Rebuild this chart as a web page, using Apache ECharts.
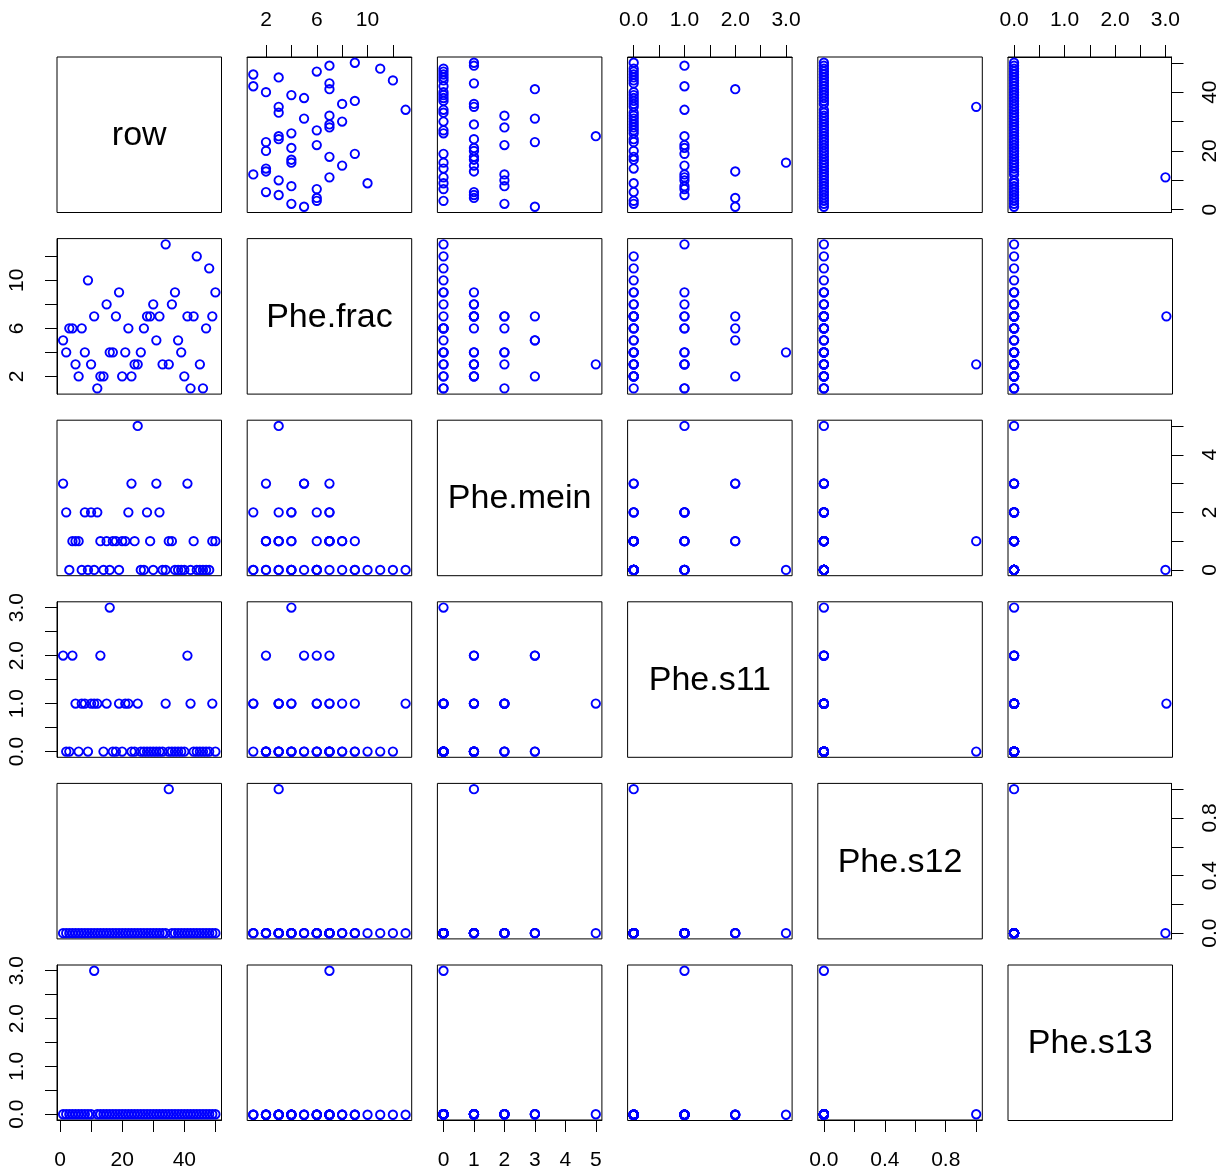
<!DOCTYPE html>
<html><head><meta charset="utf-8">
<script src="https://cdn.jsdelivr.net/npm/echarts@6/dist/echarts.min.js"></script>
<style>html,body{margin:0;padding:0;background:#fff}#c{width:1221px;height:1171px}</style>
</head><body><div id="c"></div>
<script>
// ---- data ----
const varNames = ['row', 'Phe.frac', 'Phe.mein', 'Phe.s11', 'Phe.s12', 'Phe.s13'];
const row = [1,2,3,4,5,6,7,8,9,10,11,12,13,14,15,16,17,18,19,20,21,22,23,24,25,26,27,28,29,30,31,32,33,34,35,36,37,38,39,40,41,42,43,44,45,46,47,48,49,50];
const pheFrac = [5,4,6,6,3,2,6,4,10,3,7,1,2,2,8,4,4,7,9,2,4,6,2,3,3,4,6,7,7,8,5,7,3,13,3,8,9,5,4,2,7,1,7,12,3,1,6,11,7,9];
const pheMein = [3,2,0,1,1,1,0,2,0,2,0,2,1,0,1,0,1,1,0,1,1,2,3,1,5,0,0,2,1,0,3,2,0,0,1,1,0,0,0,0,3,0,1,0,0,0,0,0,1,1];
const pheS11 = [2,0,0,2,1,0,1,1,0,1,1,1,2,0,1,3,0,0,1,0,1,1,0,0,1,0,0,0,0,0,0,0,0,1,0,0,0,0,0,0,2,1,0,0,0,0,0,0,1,0];
const pheS12 = [0,0,0,0,0,0,0,0,0,0,0,0,0,0,0,0,0,0,0,0,0,0,0,0,0,0,0,0,0,0,0,0,0,0,1,0,0,0,0,0,0,0,0,0,0,0,0,0,0,0];
const pheS13 = [0,0,0,0,0,0,0,0,0,0,3,0,0,0,0,0,0,0,0,0,0,0,0,0,0,0,0,0,0,0,0,0,0,0,0,0,0,0,0,0,0,0,0,0,0,0,0,0,0,0];

// tick marks and tick labels per variable
const ticksRow = [0,10,20,30,40,50];
const labelsRow = [0,20,40];
const ticksFrac = [2,4,6,8,10,12];
const labelsFrac = [2,6,10];
const ticksMein = [0,1,2,3,4,5];
const labelsMeinBottom = [0,1,2,3,4,5];
const labelsMeinRight = [0,2,4];
const ticksS11 = [0,0.5,1,1.5,2,2.5,3];
const labelsS11 = [0,1,2,3];
const ticksS12 = [0,0.2,0.4,0.6,0.8,1];
const labelsS12 = [0,0.4,0.8];
const ticksS13 = [0,0.5,1,1.5,2,2.5,3];
const labelsS13 = [0,1,2,3];

const vars = [row, pheFrac, pheMein, pheS11, pheS12, pheS13];
const ticks = [ticksRow, ticksFrac, ticksMein, ticksS11, ticksS12, ticksS13];
const labelsOuterX = [labelsRow, labelsFrac, labelsMeinBottom, labelsS11, labelsS12, labelsS13];
const labelsOuterY = [labelsRow, labelsFrac, labelsMeinRight, labelsS11, labelsS12, labelsS13];
const decimals = [0,0,0,1,1,1];

// ---- layout ----
const N = 6;
const X0 = 57, XSTEP = 190.2, PW = 164.5;
const Y0 = 57, YSTEP = 181.6, PH = 155.5;
const FONT = 'Liberation Sans, Arial, Helvetica, sans-serif';

function range(v) {
  const lo = Math.min(...v), hi = Math.max(...v);
  const pad = (hi - lo) * 0.04;
  return [lo - pad, hi + pad];
}

const grids = [], xAxes = [], yAxes = [], series = [], graphics = [];
for (let i = 0; i < N; i++) {
  for (let j = 0; j < N; j++) {
    const g = i * N + j;
    const left = X0 + j * XSTEP, top = Y0 + i * YSTEP;
    grids.push({left: left, top: top, width: PW, height: PH, show: true,
      borderColor: '#000', borderWidth: 1, backgroundColor: 'transparent', containLabel: false});
    const xr = range(vars[j]), yr = range(vars[i]);
    const showTop = (i === 0 && j % 2 === 1);
    const showBottom = (i === N - 1 && j % 2 === 0);
    const showLeft = (j === 0 && i % 2 === 1);
    const showRight = (j === N - 1 && i % 2 === 0);
    const showX = showTop || showBottom;
    const showY = showLeft || showRight;
    const fmtX = v => decimals[j] ? Number(v).toFixed(1) : String(v);
    const fmtY = v => decimals[i] ? Number(v).toFixed(1) : String(v);
    xAxes.push({
      gridIndex: g, type: 'value', min: xr[0], max: xr[1],
      position: showTop ? 'top' : 'bottom',
      show: showX,
      splitLine: {show: false},
      axisLine: {show: showX, onZero: false, lineStyle: {color: '#000', width: 1}},
      axisTick: {show: showX, inside: false, length: 12, lineStyle: {color: '#000', width: 1},
        customValues: ticks[j]},
      axisLabel: {show: showX, margin: showTop ? 26 : 30, color: '#000', fontSize: 21, fontFamily: FONT,
        customValues: labelsOuterX[j], formatter: fmtX, hideOverlap: false}
    });
    yAxes.push({
      gridIndex: g, type: 'value', min: yr[0], max: yr[1],
      position: showRight ? 'right' : 'left',
      show: showY,
      splitLine: {show: false},
      axisLine: {show: showY, onZero: false, lineStyle: {color: '#000', width: 1}},
      axisTick: {show: showY, inside: false, length: 12, lineStyle: {color: '#000', width: 1},
        customValues: ticks[i]},
      axisLabel: {show: showY, margin: showLeft ? 40 : 39, rotate: 90, color: '#000', fontSize: 21,
        fontFamily: FONT, customValues: labelsOuterY[i], formatter: fmtY, hideOverlap: false,
        verticalAlign: 'middle', align: 'center'}
    });
    if (i === j) {
      graphics.push({type: 'text', x: left + PW / 2, y: top + PH / 2 + 1,
        style: {text: varNames[i], font: '34px ' + FONT, fill: '#000',
          textAlign: 'center', textVerticalAlign: 'middle'}});
    } else {
      series.push({
        type: 'scatter', xAxisIndex: g, yAxisIndex: g,
        data: vars[j].map((v, k) => [v, vars[i][k]]),
        symbol: 'circle', symbolSize: 8.4,
        itemStyle: {color: 'rgba(0,0,0,0)', borderColor: '#0000ff', borderWidth: 1.9, opacity: 1},
        emphasis: {disabled: true},
        silent: true
      });
    }
  }
}

const chart = echarts.init(document.getElementById('c'), null, {renderer: 'canvas'});
chart.setOption({
  animation: false,
  backgroundColor: '#fff',
  grid: grids, xAxis: xAxes, yAxis: yAxes, series: series,
  graphic: graphics
});
</script>
</body></html>
